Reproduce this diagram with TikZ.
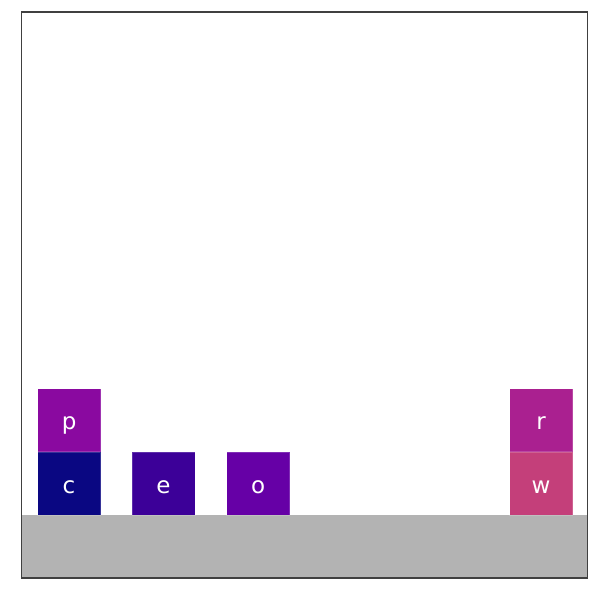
\documentclass[tikz,border=0pt]{standalone}
\usepackage{fontspec}
\setmainfont{DejaVu Sans}
\definecolor{cc}{HTML}{0A0782}
\definecolor{ce}{HTML}{3C0098}
\definecolor{co}{HTML}{6600A6}
\definecolor{cp}{HTML}{8A09A0}
\definecolor{cr}{HTML}{AA2090}
\definecolor{cw}{HTML}{C43F7A}
\definecolor{ground}{HTML}{B3B3B3}
\begin{document}
\begin{tikzpicture}[x=1pt,y=-1pt,
  blk/.style={minimum width=63pt,minimum height=63pt,inner sep=0pt,anchor=south west,
    draw=white,draw opacity=0.18,line width=0.5pt},
  lbl/.style={text=white,font=\fontsize{23}{27}\selectfont,inner sep=0pt,anchor=base}]
\useasboundingbox (0,0) rectangle (600,600);
\fill[white] (0,0) rectangle (600,600);
\node[fill=ground,minimum width=566pt,minimum height=63pt,inner sep=0pt,anchor=south west] (ground) at (21.7,578) {};
\node[blk,fill=cc] (c) at (37.3,515.3) {};
\node[blk,fill=cp,anchor=south] (p) at (c.north) {};
\node[blk,fill=ce] (e) at (131.8,515.3) {};
\node[blk,fill=co] (o) at (226.3,515.3) {};
\node[blk,fill=cw] (w) at (509.3,515.3) {};
\node[blk,fill=cr,anchor=south] (r) at (w.north) {};
\foreach \n in {c,p,e,o,w,r}{
  \node[lbl] (t\n) at ([yshift=-9.5pt]\n.center) {\n};
}
\draw[color=black!75,line width=1.1pt] (21.7,12) rectangle (587.7,578);
\end{tikzpicture}
\end{document}
